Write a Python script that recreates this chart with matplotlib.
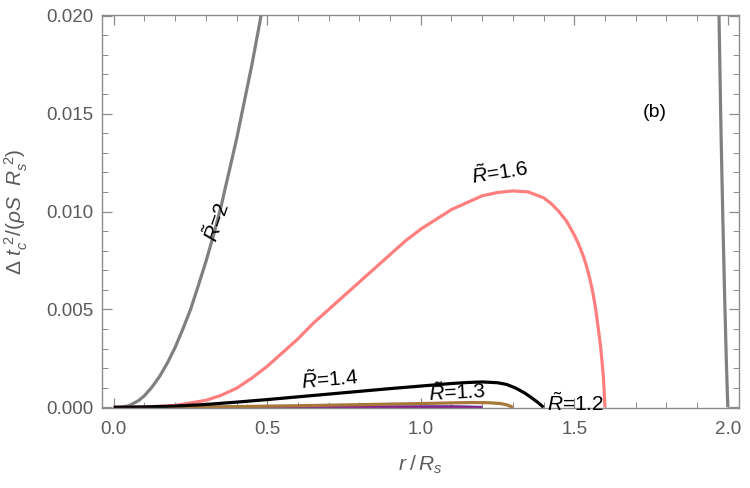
import matplotlib
matplotlib.use("Agg")
import matplotlib.pyplot as plt
from matplotlib.ticker import MultipleLocator, FormatStrFormatter

plt.rcParams['font.family'] = ['Liberation Sans', 'DejaVu Sans']
plt.rcParams['mathtext.fontset'] = 'custom'
plt.rcParams['mathtext.rm'] = 'Liberation Sans'
plt.rcParams['mathtext.it'] = 'Liberation Sans:italic'
plt.rcParams['mathtext.sf'] = 'Liberation Sans'

# R~=2 (rising branch and falling branch near r=2)
r2_x = [0.0, 0.02, 0.05, 0.08, 0.10, 0.125, 0.15, 0.175, 0.20, 0.225, 0.25, 0.275, 0.30,
        0.325, 0.35, 0.375, 0.40, 0.425, 0.45, 0.475, 0.485]
r2_y = [0.0, 0.0, 0.00009, 0.00034, 0.0006, 0.00105, 0.0016, 0.00228, 0.00307, 0.0040,
        0.0050, 0.0062, 0.00744, 0.0088, 0.0103, 0.0120, 0.0137, 0.0156, 0.0175, 0.0196,
        0.0205]
r2b_x = [1.971, 1.978, 1.984, 1.990, 1.995, 2.0]
r2b_y = [0.0203, 0.0140, 0.0095, 0.0055, 0.0025, 0.0]

# R~=1.6
r16_x = [0.0, 0.1, 0.2, 0.3, 0.35, 0.4, 0.45, 0.5, 0.55, 0.6, 0.65, 0.7, 0.75, 0.8, 0.85,
         0.9, 0.95, 1.0, 1.05, 1.1, 1.15, 1.2, 1.25, 1.3, 1.35, 1.4, 1.425, 1.45, 1.475,
         1.5, 1.515, 1.53, 1.54, 1.55, 1.56, 1.57, 1.575, 1.58, 1.585, 1.59, 1.595, 1.6]
r16_y = [0.0, 0.00002, 0.0001, 0.00036, 0.00062, 0.00098, 0.0015, 0.0021, 0.0028, 0.0035,
         0.0043, 0.0050, 0.0057, 0.0064, 0.0071, 0.0078, 0.0085, 0.0091, 0.0096, 0.0101,
         0.01045, 0.0108, 0.01097, 0.01105, 0.0110, 0.0107, 0.01040, 0.0100, 0.0095,
         0.0088, 0.0083, 0.0077, 0.0072, 0.0066, 0.0059, 0.0050, 0.0044, 0.0038, 0.0032,
         0.0024, 0.0015, 0.0]

# R~=1.4
r14_x = [0.0, 0.1, 0.2, 0.3, 0.4, 0.5, 0.6, 0.7, 0.8, 0.9, 1.0, 1.1, 1.15, 1.2, 1.25,
         1.28, 1.31, 1.34, 1.36, 1.38, 1.39, 1.4]
r14_y = [0.0, 0.00002, 0.00007, 0.00015, 0.00027, 0.0004, 0.00054, 0.00068, 0.00082,
         0.00096, 0.00109, 0.00122, 0.00127, 0.0013, 0.00126, 0.00117, 0.00098, 0.00072,
         0.0005, 0.00027, 0.00014, 0.0]

# R~=1.3
r13_x = [0.0, 0.3, 0.574, 0.8, 1.008, 1.1, 1.17, 1.22, 1.258, 1.272, 1.282, 1.292, 1.30]
r13_y = [0.0, 0.00002, 0.00008, 0.00014, 0.0002, 0.00023, 0.00025, 0.00024, 0.0002,
         0.00016, 0.00012, 0.00006, 0.0]

# R~=1.2
r12_x = [0.0, 0.4, 0.8, 1.0, 1.1, 1.15, 1.2]
r12_y = [0.0, 0.000005, 0.00002, 0.00003, 0.00003, 0.00002, 0.0]

x_ticks = [0.0, 0.5, 1.0, 1.5, 2.0]
y_ticks = [0.000, 0.005, 0.010, 0.015, 0.020]

fig = plt.figure(figsize=(7.5, 4.88), dpi=100)
ax = fig.add_axes([102/750, 1-408/488, 637/750, 393/488])

lw = 2.3
kw = dict(lw=lw, solid_capstyle='butt', solid_joinstyle='round')
ax.plot(r2_x, r2_y, color='#808080', **kw)
ax.plot(r2b_x, r2b_y, color='#808080', **kw)
ax.plot(r16_x, r16_y, color='#ff7f7f', **kw)
ax.plot(r12_x, r12_y, color='#4a4aa8', **kw)
ax.plot(r12_x, r12_y, color='#8a1f8a', lw=1.6, solid_capstyle='butt')
ax.plot(r13_x, r13_y, color='#a8773a', **kw)
ax.plot(r14_x, r14_y, color='black', **kw)

ax.set_xlim(-0.0384, 2.0365)
ax.set_ylim(-0.00003, 0.02003)

frame_col = '#8c8c8c'
lab_col = '#5a5a5a'
for s in ax.spines.values():
    s.set_color(frame_col)
    s.set_linewidth(1.0)

ax.set_xticks(x_ticks)
ax.set_yticks(y_ticks)
ax.xaxis.set_major_formatter(FormatStrFormatter('%.1f'))
ax.yaxis.set_major_formatter(FormatStrFormatter('%.3f'))
ax.xaxis.set_minor_locator(MultipleLocator(0.1))
ax.yaxis.set_minor_locator(MultipleLocator(0.001))
ax.tick_params(which='both', direction='in', top=True, right=True, color=frame_col,
               labelcolor=lab_col, labelsize=13.5)
ax.tick_params(which='major', length=7, width=0.9)
ax.tick_params(axis='x', which='major', pad=9)
ax.tick_params(axis='y', which='major', pad=6)
ax.tick_params(which='minor', length=4, width=0.7)

ax.set_xlabel(r'$r\;/\,R_s$', color=lab_col, fontsize=15, labelpad=12)
ax.set_ylabel(r'$\Delta\ t_c^{\ 2}/(\rho S\ \ R_s^{\ 2})$', color=lab_col, fontsize=15, labelpad=12)

tfs = 15
ax.text(0.335, 0.00945, r'$\tilde{R}$=2', rotation=71, ha='center', va='center', fontsize=tfs)
ax.text(1.258, 0.0120, r'$\tilde{R}$=1.6', rotation=9, ha='center', va='center', fontsize=tfs)
ax.text(0.705, 0.00145, r'$\tilde{R}$=1.4', rotation=5, ha='center', va='center', fontsize=tfs)
ax.text(1.12, 0.00078, r'$\tilde{R}$=1.3', rotation=3, ha='center', va='center', fontsize=tfs)
ax.text(1.505, 0.00022, r'$\tilde{R}$=1.2', ha='center', va='center', fontsize=tfs)
ax.text(1.762, 0.01507, '(b)', ha='center', va='center', fontsize=14)

fig.savefig('out.png', dpi=100)
